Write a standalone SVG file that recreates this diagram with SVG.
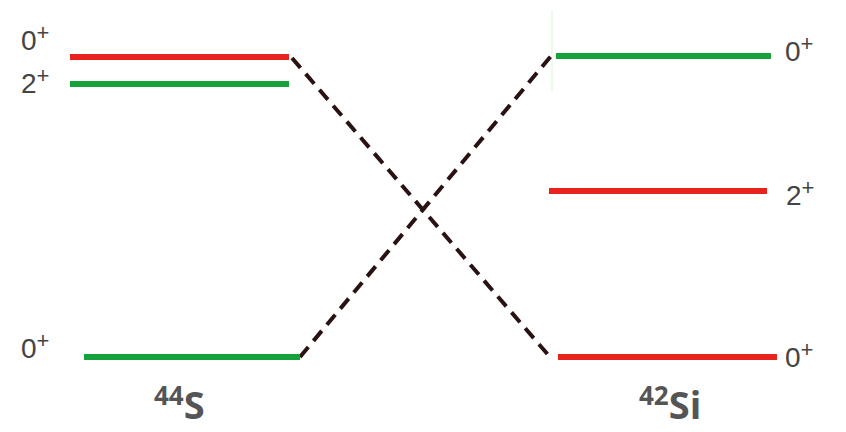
<svg xmlns="http://www.w3.org/2000/svg" width="846" height="432" viewBox="0 0 846 432">
<style>
.lvl{stroke-width:6;fill:none}
.red{stroke:#e8231c}
.grn{stroke:#16a23a}
.dash{stroke:#2a1212;stroke-width:4;stroke-dasharray:13 8;fill:none}
.lab{font-family:"Liberation Sans",Arial,sans-serif;font-size:28px;fill:#444}
.sup{font-size:22px}
.iso{font-family:"Open Sans","Liberation Sans",sans-serif;font-weight:bold;fill:#555}
</style>
<rect width="846" height="432" fill="#fff"/>
<line x1="552" y1="10" x2="552" y2="92" stroke="#d8f5d8" stroke-width="1"/>
<g id="connectors">
<line class="dash" x1="292" y1="58" x2="550" y2="357"/>
<line class="dash" x1="300" y1="357" x2="551" y2="56"/>
</g>
<g id="S44-0plus-exc"><line class="lvl red" x1="70" y1="57" x2="289" y2="57"/><text class="lab" x="21" y="50">0<tspan class="sup" dy="-10">+</tspan></text></g>
<g id="S44-2plus"><line class="lvl grn" x1="70" y1="84" x2="289" y2="84"/><text class="lab" x="21" y="93">2<tspan class="sup" dy="-10">+</tspan></text></g>
<g id="S44-0plus-gs"><line class="lvl grn" x1="84" y1="357" x2="300" y2="357"/><text class="lab" x="21" y="358">0<tspan class="sup" dy="-10">+</tspan></text></g>
<g id="Si42-0plus-exc"><line class="lvl grn" x1="556" y1="56" x2="771" y2="56"/><text class="lab" x="785" y="61">0<tspan class="sup" dy="-10">+</tspan></text></g>
<g id="Si42-2plus"><line class="lvl red" x1="549" y1="191" x2="767" y2="191"/><text class="lab" x="786" y="205">2<tspan class="sup" dy="-10">+</tspan></text></g>
<g id="Si42-0plus-gs"><line class="lvl red" x1="558" y1="357" x2="777" y2="357"/><text class="lab" x="785" y="367">0<tspan class="sup" dy="-10">+</tspan></text></g>
<g id="label-44S"><text class="iso" x="154" y="419"><tspan font-size="26" dy="-14">44</tspan><tspan font-size="38" dy="14">S</tspan></text></g>
<g id="label-42Si"><text class="iso" x="639" y="419"><tspan font-size="26" dy="-14">42</tspan><tspan font-size="38" dy="14">Si</tspan></text></g>
</svg>
